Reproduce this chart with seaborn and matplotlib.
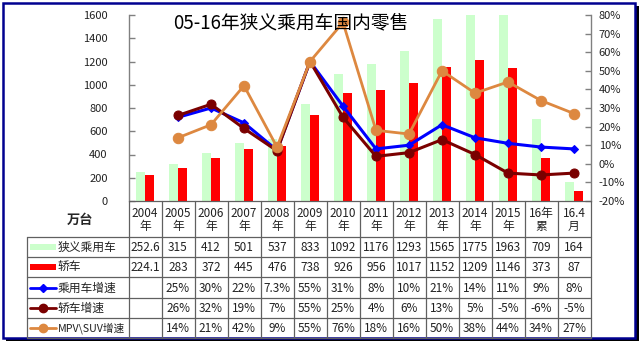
import matplotlib
matplotlib.use('Agg')
import matplotlib.pyplot as plt
import seaborn as sns
import pandas as pd
import numpy as np
from matplotlib.patches import Rectangle

# ---------------- data ----------------
categories = ['2004年', '2005年', '2006年', '2007年', '2008年', '2009年', '2010年',
              '2011年', '2012年', '2013年', '2014年', '2015年', '16年累', '16.4月']
header_labels = ['2004\n年', '2005\n年', '2006\n年', '2007\n年', '2008\n年', '2009\n年',
                 '2010\n年', '2011\n年', '2012\n年', '2013\n年', '2014\n年', '2015\n年',
                 '16年\n累', '16.4\n月']
passenger = [252.6, 315, 412, 501, 537, 833, 1092, 1176, 1293, 1565, 1775, 1963, 709, 164]
sedan = [224.1, 283, 372, 445, 476, 738, 926, 956, 1017, 1152, 1209, 1146, 373, 87]
passenger_growth = [np.nan, 25, 30, 22, 7.3, 55, 31, 8, 10, 21, 14, 11, 9, 8]
sedan_growth = [np.nan, 26, 32, 19, 7, 55, 25, 4, 6, 13, 5, -5, -6, -5]
mpv_growth = [np.nan, 14, 21, 42, 9, 55, 76, 18, 16, 50, 38, 44, 34, 27]
series_names = ['狭义乘用车', '轿车', '乘用车增速', '轿车增速', 'MPV\\SUV增速']
title = '05-16年狭义乘用车国内零售'
unit_label = '万台'

GREEN = '#CCFFCC'
RED = '#FF0000'
BLUE = '#0000FF'
MAROON = '#7A0000'
ORANGE = '#DD8840'

sns.set_theme(style='white')
plt.rcParams['font.family'] = ['Noto Sans CJK SC', 'DejaVu Sans']

W, H = 642, 346
fig = plt.figure(figsize=(W / 100, H / 100), dpi=100)
fig.patch.set_facecolor('white')

# plot area in pixels
PL, PR, PT, PB = 128.5, 590.5, 15.0, 201.0
ax = fig.add_axes([PL / W, 1 - PB / H, (PR - PL) / W, (PB - PT) / H])
ax.set_facecolor('none')

df = pd.DataFrame({
    'cat': categories * 2,
    'value': passenger + sedan,
    'series': [series_names[0]] * len(categories) + [series_names[1]] * len(categories),
})
sns.barplot(data=df, x='cat', y='value', hue='series', palette=[GREEN, RED],
            width=0.56, saturation=1, ax=ax, legend=False, linewidth=0, order=categories)
ax.set_ylim(0, 1600)
ax.set_yticks(range(0, 1601, 200))
ax.set_xlim(-0.5, len(categories) - 0.5)
ax.set_xticks([])
ax.set_xlabel('')
ax.set_ylabel('')
for s in ['top', 'right', 'bottom']:
    ax.spines[s].set_visible(False)
ax.spines['left'].set_color('#808080')
ax.spines['left'].set_linewidth(1.0)
ax.tick_params(axis='y', direction='in', length=4, color='#808080', width=1,
               labelsize=8, labelcolor='#222222', pad=15, left=True)

ax2 = ax.twinx()
ax2.set_facecolor('none')
xs = np.arange(len(categories))
line_df = pd.DataFrame({'x': xs, 'pg': passenger_growth, 'sg': sedan_growth, 'mg': mpv_growth})
sns.lineplot(data=line_df, x='x', y='pg', ax=ax2, color=BLUE, marker='D', markersize=4.5,
             markeredgecolor=BLUE, linewidth=2.2, estimator=None, sort=False)
sns.lineplot(data=line_df, x='x', y='sg', ax=ax2, color=MAROON, marker='o', markersize=6.5,
             markeredgecolor=MAROON, linewidth=2.2, estimator=None, sort=False)
sns.lineplot(data=line_df, x='x', y='mg', ax=ax2, color=ORANGE, marker='o', markersize=7.5,
             markeredgecolor=ORANGE, linewidth=2, estimator=None, sort=False)
ax2.set_ylim(-20, 80)
ax2.set_yticks(range(-20, 81, 10))
ax2.set_yticklabels([f'{v}%' for v in range(-20, 81, 10)])
ax2.set_xlim(-0.5, len(categories) - 0.5)
ax2.set_xlabel('')
ax2.set_ylabel('')
for s in ['top', 'left', 'bottom']:
    ax2.spines[s].set_visible(False)
ax2.spines['right'].set_color('#808080')
ax2.spines['right'].set_linewidth(1.0)
ax2.tick_params(axis='y', direction='in', length=4, color='#808080', width=1,
                labelsize=8, labelcolor='#222222', pad=6, right=True)

fig.text(173 / W, 1 - 23 / H, title, fontsize=13.5, ha='left', va='center', color='black')

# ---------------- table (overlay in pixel coords) ----------------
tax = fig.add_axes([0, 0, 1, 1])
tax.set_xlim(0, W)
tax.set_ylim(H, 0)
tax.axis('off')
tax.set_facecolor('none')

n = len(categories)
colw = (PR - PL) / n
TL = 27.0
row_y = [237.0 + 20.2 * i for i in range(6)]
lc = '#606060'
fs = 8.5

for i in range(n + 1):
    x = PL + i * colw
    tax.plot([x, x], [PB, row_y[-1]], color=lc, lw=0.9)
tax.plot([TL, TL], [row_y[0], row_y[-1]], color=lc, lw=0.9)
tax.plot([PL, PR], [PB, PB], color=lc, lw=0.9)
for y in row_y:
    tax.plot([TL, PR], [y, y], color=lc, lw=0.9)

tax.text((TL + PL) / 2 + 2, (PB + row_y[0]) / 2 + 1, unit_label, ha='center', va='center',
         fontsize=9.5, fontweight='bold')
for i, lab in enumerate(header_labels):
    tax.text(PL + (i + 0.5) * colw, (PB + row_y[0]) / 2 + 1, lab, ha='center', va='center',
             fontsize=fs, linespacing=1.05, color='#222222')

def fmt_num(v):
    return f'{v:g}'

def fmt_pct(v):
    return '' if np.isnan(v) else f'{v:g}%'

rows = [
    [fmt_num(v) for v in passenger],
    [fmt_num(v) for v in sedan],
    [fmt_pct(v) for v in passenger_growth],
    [fmt_pct(v) for v in sedan_growth],
    [fmt_pct(v) for v in mpv_growth],
]
label_fs = [8.5, 8.5, 8.5, 8.5, 7.7]
for r, vals in enumerate(rows):
    yc = (row_y[r] + row_y[r + 1]) / 2
    for i, t in enumerate(vals):
        tax.text(PL + (i + 0.5) * colw, yc + 0.5, t, ha='center', va='center',
                 fontsize=fs, color='#222222')
    tax.text(57.5, yc + 0.5, series_names[r], ha='left', va='center', fontsize=label_fs[r],
             color='#222222')

# legend keys
y0 = (row_y[0] + row_y[1]) / 2
tax.add_patch(Rectangle((30, y0 - 3), 26, 6, color=GREEN, lw=0))
y1 = (row_y[1] + row_y[2]) / 2
tax.add_patch(Rectangle((30, y1 - 3), 26, 6, color=RED, lw=0))
y2 = (row_y[2] + row_y[3]) / 2
tax.plot([30, 56], [y2, y2], color=BLUE, lw=2)
tax.plot([43], [y2], marker='D', color=BLUE, markersize=4.5)
y3 = (row_y[3] + row_y[4]) / 2
tax.plot([30, 56], [y3, y3], color=MAROON, lw=2)
tax.plot([43], [y3], marker='o', color=MAROON, markersize=6)
y4 = (row_y[4] + row_y[5]) / 2
tax.plot([30, 56], [y4, y4], color=ORANGE, lw=2)
tax.plot([43], [y4], marker='o', color=ORANGE, markersize=6)

# outer frame with shadow
tax.add_patch(Rectangle((6, 338), 633, 3, color='black', lw=0))
tax.add_patch(Rectangle((635, 6), 3.5, 335, color='black', lw=0))
tax.add_patch(Rectangle((2.5, 2.5), 632, 335.5, fill=False, edgecolor='#000090', lw=1.8))

fig.savefig('out.png', dpi=100, facecolor='white')
